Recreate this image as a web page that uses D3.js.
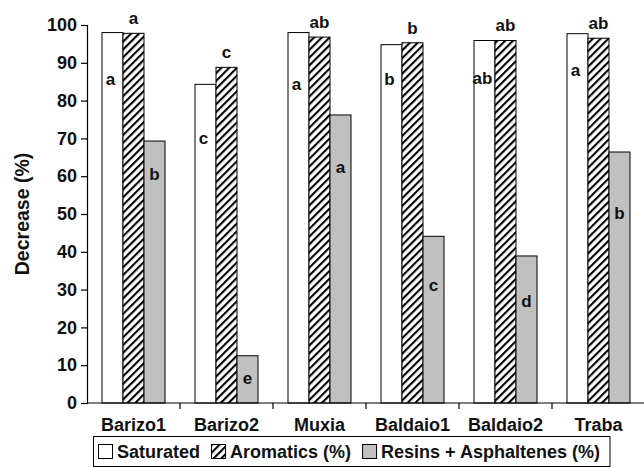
<!DOCTYPE html>
<html>
<head>
<meta charset="utf-8">
<script src="https://cdn.jsdelivr.net/npm/d3@7"></script>
<style>
  html, body { margin: 0; padding: 0; background: #fff; }
  svg { display: block; font-family: "Liberation Sans", Arial, sans-serif; font-weight: bold; }
</style>
</head>
<body>
<svg id="chart" width="644" height="468"></svg>
<script>
// Sites and fractions
const sites = ["Barizo1", "Barizo2", "Muxia", "Baldaio1", "Baldaio2", "Traba"];
const seriesNames = ["Saturated", "Aromatics (%)", "Resins + Asphaltenes (%)"];

// Decrease (%) per fraction
const saturated = [98.0, 84.3, 98.0, 94.8, 95.9, 97.7];
const aromatics = [97.8, 88.8, 96.8, 95.3, 95.9, 96.5];
const resins    = [69.3, 12.5, 76.2, 44.1, 38.9, 66.4];

// Significance letters
const saturatedLetters = ["a", "c", "a", "b", "ab", "a"];
const aromaticsLetters = ["a", "c", "ab", "b", "ab", "ab"];
const resinsLetters    = ["b", "e", "a", "c", "d", "b"];

const yTicks = [0, 10, 20, 30, 40, 50, 60, 70, 80, 90, 100];

// Layout: how far below a bar's top the inner letters sit (px)
const satLabelDrop = [46, 54, 51, 34, 38, 36];
const resLabelDrop = [33, 22, 52, 49, 45, 61];

const svg = d3.select("#chart");
const mLeft = 87, mRight = 645, mTop = 25, mBottom = 403;

const x = d3.scaleBand().domain(sites).range([mLeft, mRight]).padding(0);
const xs = d3.scaleBand().domain(seriesNames).range([15, 78]).padding(0);
const y = d3.scaleLinear().domain([0, 100]).range([mBottom, mTop]);

// Hatch pattern for aromatics
const defs = svg.append("defs");
const pat = defs.append("pattern")
  .attr("id", "hatch")
  .attr("patternUnits", "userSpaceOnUse")
  .attr("width", 5.5).attr("height", 5.5)
  .attr("patternTransform", "rotate(45)");
pat.append("rect").attr("width", 5.5).attr("height", 5.5).attr("fill", "#fff");
pat.append("rect").attr("x", 0).attr("y", 0).attr("width", 2.1).attr("height", 5.5).attr("fill", "#000");

const fills = ["#ffffff", "url(#hatch)", "#c0c0c0"];
const values = [saturated, aromatics, resins];

// Bars
seriesNames.forEach((s, si) => {
  svg.append("g").selectAll("rect")
    .data(sites.map((site, i) => ({ site, v: values[si][i] })))
    .join("rect")
    .attr("x", d => x(d.site) + xs(s))
    .attr("y", d => y(d.v))
    .attr("width", xs.bandwidth())
    .attr("height", d => y(0) - y(d.v))
    .attr("fill", fills[si])
    .attr("stroke", "#000")
    .attr("stroke-width", 1);
});

// Axes
const yAxis = d3.axisLeft(y).tickValues(yTicks).tickSize(6).tickPadding(4);
const gy = svg.append("g").attr("transform", `translate(${mLeft},0)`).call(yAxis);
gy.select(".domain").attr("stroke", "#000").attr("stroke-width", 1.2);
gy.selectAll(".tick line").attr("stroke", "#000").attr("stroke-width", 1.2);
gy.selectAll(".tick text").attr("font-size", 18).attr("font-weight", "bold")
  .attr("fill", "#111").attr("font-family", "Liberation Sans, Arial, sans-serif");

const gx = svg.append("g").attr("transform", `translate(0,${mBottom})`);
gx.append("line").attr("x1", mLeft).attr("x2", mRight).attr("y1", 0).attr("y2", 0)
  .attr("stroke", "#000").attr("stroke-width", 1.2);
gx.selectAll("line.sep").data(sites.slice(1)).join("line")
  .attr("class", "sep")
  .attr("x1", d => x(d)).attr("x2", d => x(d))
  .attr("y1", 0).attr("y2", 6)
  .attr("stroke", "#000").attr("stroke-width", 1.2);
gx.selectAll("text").data(sites).join("text")
  .attr("x", d => x(d) + x.bandwidth() / 2)
  .attr("y", 28)
  .attr("text-anchor", "middle")
  .attr("font-size", 18)
  .attr("fill", "#111")
  .text(d => d);

// Y title
svg.append("text")
  .attr("transform", `translate(29,${(mTop + mBottom) / 2}) rotate(-90)`)
  .attr("text-anchor", "middle")
  .attr("font-size", 19.5)
  .attr("fill", "#111")
  .text("Decrease (%)");

// Letters
const lbl = svg.append("g").attr("font-size", 17).attr("fill", "#111").attr("text-anchor", "middle");
sites.forEach((site, i) => {
  const cx = si => x(site) + xs(seriesNames[si]) + xs.bandwidth() / 2;
  lbl.append("text").attr("x", cx(0) - 2).attr("y", y(saturated[i]) + satLabelDrop[i] + 6).text(saturatedLetters[i]);
  lbl.append("text").attr("x", cx(1)).attr("y", y(aromatics[i]) - 9).text(aromaticsLetters[i]);
  lbl.append("text").attr("x", cx(2)).attr("y", y(resins[i]) + resLabelDrop[i] + 6).text(resinsLetters[i]);
});

// Legend
const lg = svg.append("g");
const legendBox = lg.append("rect").attr("x", 93.5).attr("y", 436.5).attr("height", 30)
  .attr("fill", "#fff").attr("stroke", "#000").attr("stroke-width", 1);
let lx = 98;
seriesNames.forEach((s, si) => {
  const g = lg.append("g").attr("transform", `translate(${lx},444)`);
  g.append("rect").attr("x", 0.5).attr("y", 0.5).attr("width", 14).attr("height", 14)
    .attr("fill", fills[si]).attr("stroke", "#000").attr("stroke-width", 1);
  const t = g.append("text").attr("x", 19).attr("y", 14).attr("font-size", 18).attr("fill", "#111").text(s);
  lx += 19 + t.node().getComputedTextLength() + 11;
});
legendBox.attr("width", lx - 11 - 93.5 + 10);
</script>
</body>
</html>
